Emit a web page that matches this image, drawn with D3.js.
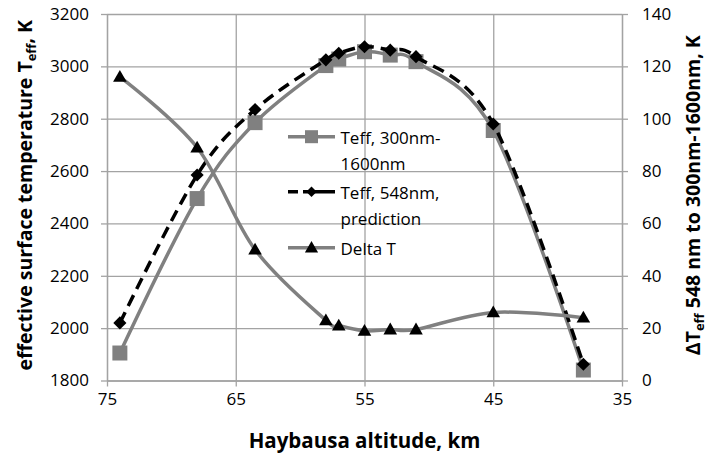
<!DOCTYPE html>
<html>
<head>
<meta charset="utf-8">
<script src="https://cdn.jsdelivr.net/npm/d3@7"></script>
<style>
  html, body { margin: 0; padding: 0; background: #fff; }
  svg { display: block; }
  text { font-family: "Open Sans", "Noto Sans", sans-serif; fill: #000; }
</style>
</head>
<body>
<svg id="chart" width="711" height="459"></svg>
<script>
// ---- data ----
const altitudes = [74, 68, 63.5, 58, 57, 55, 53, 51, 45, 38];
const teffBroad = [1905, 2495, 2785, 3003, 3028, 3056, 3043, 3018, 2755, 1840];
const teffPred  = [2020, 2585, 2835, 3025, 3050, 3075, 3062, 3037, 2780, 1862];
const deltaT    = [116, 89, 50, 23, 21, 19, 19.5, 19.5, 26, 24];
const xTicks = [75, 65, 55, 45, 35];
const yLeftTicks = [1800, 2000, 2200, 2400, 2600, 2800, 3000, 3200];
const yRightTicks = [0, 20, 40, 60, 80, 100, 120, 140];
const seriesNames = ["Teff, 300nm-\n1600nm", "Teff, 548nm,\nprediction", "Delta T"];

// ---- layout ----
const L = 107, R = 622, T = 14, B = 380.5;
const gridColor = "#a3a3a3";
const grayLine = "#808080";

const svg = d3.select("#chart");
const x = d3.scaleLinear().domain([75, 35]).range([L, R]);
const yL = d3.scaleLinear().domain([1800, 3200]).range([B, T]);
const yR = d3.scaleLinear().domain([0, 140]).range([B, T]);
const fmt = d3.format("d");

// grid lines
svg.append("g").attr("transform", `translate(${L},0)`)
  .call(d3.axisLeft(yL).tickValues(yLeftTicks).tickSize(-(R - L)).tickFormat(""))
  .call(g => g.select(".domain").remove())
  .call(g => g.selectAll("line").attr("stroke", gridColor).attr("stroke-width", 1.3));
svg.append("g").attr("transform", `translate(0,${B})`)
  .call(d3.axisBottom(x).tickValues(xTicks).tickSize(-(B - T)).tickFormat(""))
  .call(g => g.select(".domain").remove())
  .call(g => g.selectAll("line").attr("stroke", gridColor).attr("stroke-width", 1.3));

// axes
const fontSize = 17;
function styleAxis(g) {
  g.select(".domain").attr("stroke", gridColor).attr("stroke-width", 1.3);
  g.selectAll(".tick line").attr("stroke", gridColor).attr("stroke-width", 1.3);
  g.selectAll(".tick text").attr("font-size", fontSize).attr("font-family", '"Open Sans", sans-serif').attr("fill", "#000");
}
svg.append("g").attr("transform", `translate(${L},0)`)
  .call(d3.axisLeft(yL).tickValues(yLeftTicks).tickFormat(fmt).tickSize(6).tickPadding(12).tickSizeOuter(0))
  .call(styleAxis);
svg.append("g").attr("transform", `translate(${R},0)`)
  .call(d3.axisRight(yR).tickValues(yRightTicks).tickFormat(fmt).tickSize(6).tickPadding(14).tickSizeOuter(0))
  .call(styleAxis);
svg.append("g").attr("transform", `translate(0,${B})`)
  .call(d3.axisBottom(x).tickValues(xTicks).tickFormat(fmt).tickSize(6).tickPadding(6).tickSizeOuter(0))
  .call(styleAxis);

// axis titles
svg.append("text")
  .attr("x", (L + R) / 2).attr("y", 448)
  .attr("text-anchor", "middle").attr("font-size", 20.5).attr("font-weight", "bold")
  .text("Haybausa altitude, km");

const lt = svg.append("text")
  .attr("transform", `translate(32,${(T + B) / 2 - 2}) rotate(-90)`)
  .attr("text-anchor", "middle").attr("font-size", 19.5).attr("font-weight", "bold");
lt.append("tspan").text("effective surface temperature T");
lt.append("tspan").attr("font-size", 13).attr("dy", 4).text("eff");
lt.append("tspan").attr("dy", -4).text(", K");

const rt = svg.append("text")
  .attr("transform", `translate(700,${(T + B) / 2 - 2}) rotate(-90)`)
  .attr("text-anchor", "middle").attr("font-size", 19.5).attr("font-weight", "bold");
rt.append("tspan").text("ΔT");
rt.append("tspan").attr("font-size", 13).attr("dy", 4).text("eff");
rt.append("tspan").attr("dy", -4).text(" 548 nm to 300nm-1600nm, K");

// series
const curve = d3.curveCardinal.tension(0);
const pts = (ys) => altitudes.map((a, i) => [a, ys[i]]);

const lineL = d3.line().x(d => x(d[0])).y(d => yL(d[1])).curve(curve);
const lineR = d3.line().x(d => x(d[0])).y(d => yR(d[1])).curve(curve);

const sq = d3.symbol().type(d3.symbolSquare);
const dia = d3.symbol().type(d3.symbolDiamond2);
const tri = d3.symbol().type(d3.symbolTriangle);

// series 1
svg.append("path").attr("d", lineL(pts(teffBroad)))
  .attr("fill", "none").attr("stroke", grayLine).attr("stroke-width", 3.5);
svg.append("g").selectAll("path").data(pts(teffBroad)).join("path")
  .attr("transform", d => `translate(${x(d[0])},${yL(d[1])})`)
  .attr("d", sq.size(15 * 15)).attr("fill", grayLine);

// series 2
svg.append("path").attr("d", lineL(pts(teffPred)))
  .attr("fill", "none").attr("stroke", "#000").attr("stroke-width", 3.5)
  .attr("stroke-dasharray", "12,7");
svg.append("g").selectAll("path").data(pts(teffPred)).join("path")
  .attr("transform", d => `translate(${x(d[0])},${yL(d[1])})`)
  .attr("d", dia.size(110)).attr("fill", "#000");

// series 3
svg.append("path").attr("d", lineR(pts(deltaT)))
  .attr("fill", "none").attr("stroke", grayLine).attr("stroke-width", 3.5);
svg.append("g").selectAll("path").data(pts(deltaT)).join("path")
  .attr("transform", d => `translate(${x(d[0])},${yR(d[1]) + 1})`)
  .attr("d", tri.size(80)).attr("fill", "#000");

// legend
const legY = [136.7, 191.7, 247.7];
const lg = svg.append("g");
const lx1 = 288, lx2 = 335, lmx = 311.5, ltx = 340.5;
// item 1
lg.append("line").attr("x1", lx1).attr("x2", lx2).attr("y1", legY[0]).attr("y2", legY[0])
  .attr("stroke", grayLine).attr("stroke-width", 3.5);
lg.append("path").attr("transform", `translate(${lmx},${legY[0]})`).attr("d", sq.size(13 * 13)).attr("fill", grayLine);
// item 2
lg.append("line").attr("x1", lx1).attr("x2", lx2).attr("y1", legY[1]).attr("y2", legY[1])
  .attr("stroke", "#000").attr("stroke-width", 3.5).attr("stroke-dasharray", "10,5,32,5");
lg.append("path").attr("transform", `translate(${lmx},${legY[1]})`).attr("d", dia.size(70)).attr("fill", "#000");
// item 3
lg.append("line").attr("x1", lx1).attr("x2", lx2).attr("y1", legY[2]).attr("y2", legY[2])
  .attr("stroke", grayLine).attr("stroke-width", 3.5);
lg.append("path").attr("transform", `translate(${lmx},${legY[2] + 1})`).attr("d", tri.size(75)).attr("fill", "#000");

seriesNames.forEach((name, i) => {
  const t = lg.append("text").attr("x", ltx).attr("y", legY[i]).attr("font-size", fontSize)
    .attr("dominant-baseline", "central");
  name.split("\n").forEach((ln, j) => {
    t.append("tspan").attr("x", ltx).attr("dy", j === 0 ? 0 : 26).text(ln);
  });
});
</script>
</body>
</html>
